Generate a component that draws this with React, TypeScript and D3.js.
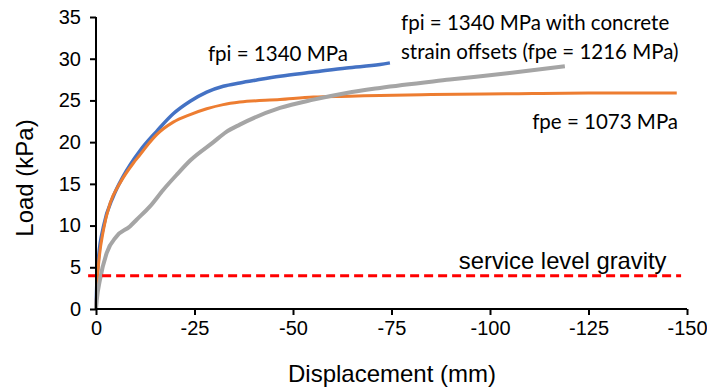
import React, { useRef, useEffect } from 'react';
import * as d3 from 'd3';

// Load–displacement curves (displacement in mm, negative = downward; load in kPa)
const fpiX = [0, -0.2, -0.6, -1.9, -4.4, -6.9, -11.2, -15.4, -19.6, -23.9, -28.1, -32.3, -36.5, -40.8, -46.7, -55.2, -63.6, -72.1, -74.6];
const fpiY = [0, 3.0, 5.9, 9.9, 13.5, 15.9, 19.0, 21.3, 23.4, 24.9, 26.0, 26.7, 27.1, 27.45, 27.9, 28.4, 28.9, 29.3, 29.5];

const fpeX = [0, -0.2, -0.6, -1.9, -3.6, -6.1, -9.5, -11.2, -13.5, -15.4, -19.6, -23.9, -28.1, -32.3, -36.5, -46.7, -55.2, -64.5, -72.1, -85, -104.2, -125, -147.4];
const fpeY = [0, 2.5, 5.1, 9.5, 12.7, 15.1, 17.5, 18.5, 19.9, 20.9, 22.4, 23.3, 24.0, 24.5, 24.8, 25.1, 25.4, 25.5, 25.6, 25.7, 25.8, 25.9, 25.9];

const offX = [0, -0.2, -1.0, -2.7, -5.2, -8.6, -10.3, -13.7, -17.1, -20.5, -23.9, -29.8, -33.0, -36.5, -46.7, -55.2, -63.6, -72.1, -89.8, -105, -119];
const offY = [0, 1.1, 3.5, 6.7, 8.7, 9.9, 10.7, 12.3, 14.3, 16.1, 17.8, 20.0, 21.2, 22.1, 24.1, 25.1, 25.9, 26.5, 27.5, 28.3, 29.1];

const serviceLoad = 4;
const serviceSpan = [2, -148.5];

const xTicks = [0, -25, -50, -75, -100, -125, -150];
const yTicks = [0, 5, 10, 15, 20, 25, 30, 35];

// annotation text and anchor in data units
const notes = [
  { text: 'fpi = 1340 MPa', x: -28.4, y: 29.75, font: 'Lato', size: 20.5 },
  { text: 'fpi = 1340 MPa with concrete', x: -77.4, y: 33.5, font: 'Lato', size: 20.5 },
  { text: 'strain offsets (fpe = 1216 MPa)', x: -77.4, y: 30.0, font: 'Lato', size: 20.5 },
  { text: 'fpe = 1073 MPa', x: -110.7, y: 21.6, font: 'Lato', size: 20.5 },
  { text: 'service level gravity', x: -92.1, y: 4.8, font: 'Liberation Sans', size: 23.8 },
];

const W = 707;
const H = 388;

const App: React.FC = () => {
  const ref = useRef<SVGSVGElement>(null);

  useEffect(() => {
    if (!ref.current) return;
    const svg = d3.select(ref.current);
    svg.selectAll('*').remove();

    const x = d3.scaleLinear().domain([0, -150]).range([96, 687]);
    const y = d3.scaleLinear().domain([0, 35]).range([309, 17]);

    const line = d3
      .line<[number, number]>()
      .x((d) => x(d[0]))
      .y((d) => y(d[1]))
      .curve(d3.curveMonotoneX);

    // drawn in Excel series order: blue, orange, gray on top
    const series = [
      { xs: fpiX, ys: fpiY, color: '#4472C4', w: 3.5 },
      { xs: fpeX, ys: fpeY, color: '#ED7D31', w: 3 },
      { xs: offX, ys: offY, color: '#A5A5A5', w: 4 },
    ];
    series.forEach((s) => {
      const pts = s.xs.map((v, i) => [v, s.ys[i]] as [number, number]);
      svg
        .append('path')
        .attr('d', line(pts))
        .attr('fill', 'none')
        .attr('stroke', s.color)
        .attr('stroke-width', s.w)
        .attr('stroke-linejoin', 'round');
    });

    // service level
    svg
      .append('line')
      .attr('x1', x(serviceSpan[0]))
      .attr('x2', x(serviceSpan[1]))
      .attr('y1', y(serviceLoad))
      .attr('y2', y(serviceLoad))
      .attr('stroke', '#FF0000')
      .attr('stroke-width', 3)
      .attr('stroke-dasharray', '9,5');

    // axes
    const gx = svg
      .append('g')
      .attr('transform', `translate(0,${y(0)})`)
      .call(d3.axisBottom(x).tickValues(xTicks).tickSize(6).tickPadding(6).tickFormat((d) => `${d}`));
    const gy = svg
      .append('g')
      .attr('transform', `translate(${x(0)},0)`)
      .call(d3.axisLeft(y).tickValues(yTicks).tickSize(6).tickPadding(9).tickFormat((d) => `${d}`));

    [gx, gy].forEach((g) => {
      g.select('.domain').attr('stroke', '#000').attr('stroke-width', 2);
      g.selectAll('.tick line').attr('stroke', '#000').attr('stroke-width', 2);
      g.selectAll('.tick text')
        .style('font-family', 'Liberation Sans, Arial, sans-serif')
        .style('font-size', '20px')
        .attr('fill', '#000');
    });
    gx.select('.domain').attr('d', `M${x(0)},0H${x(-150)}`);
    gy.select('.domain').attr('d', `M0,${y(0)}V${y(35)}`);

    // axis titles
    svg
      .append('text')
      .attr('transform', `translate(33,${(y(0) + y(35)) / 2 + 15}) rotate(-90)`)
      .attr('text-anchor', 'middle')
      .style('font-family', 'Liberation Sans, Arial, sans-serif')
      .style('font-size', '24px')
      .text('Load (kPa)');
    svg
      .append('text')
      .attr('x', 392)
      .attr('y', 382)
      .attr('text-anchor', 'middle')
      .style('font-family', 'Liberation Sans, Arial, sans-serif')
      .style('font-size', '24px')
      .text('Displacement (mm)');

    notes.forEach((n) => {
      svg
        .append('text')
        .attr('x', x(n.x))
        .attr('y', y(n.y))
        .style('font-family', n.font)
        .style('font-size', `${n.size}px`)
        .attr('fill', '#000')
        .text(n.text);
    });
  }, []);

  return (
    <svg
      ref={ref}
      width={W}
      height={H}
      style={{ position: 'absolute', left: 0, top: 0, background: '#fff' }}
    />
  );
};

export default App;
